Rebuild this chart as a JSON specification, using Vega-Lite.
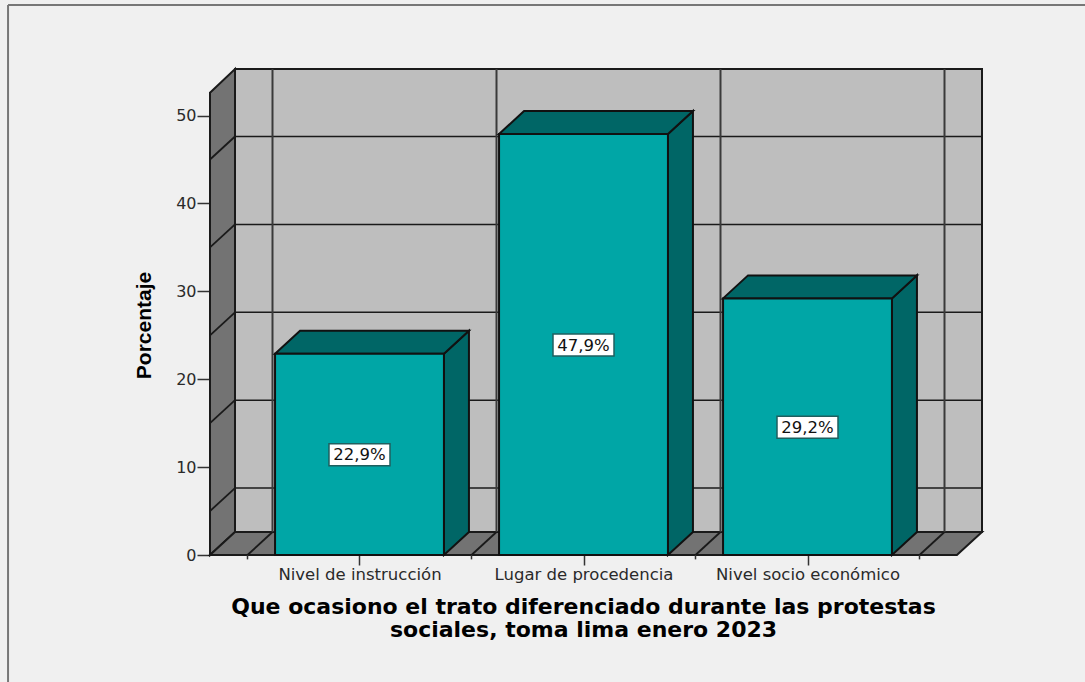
{
"$schema":"https://vega.github.io/schema/vega-lite/v6.json",
"width":772,"height":486,
"autosize":{"type":"none"},
"padding":{"left":210,"top":69,"right":103,"bottom":127},
"background":"#f0f0f0",
"config":{"view":{"stroke":null}},
"datasets":{"barras":[
{"categoria":"Nivel de instrucción","orden":1,"porcentaje":22.9},
{"categoria":"Lugar de procedencia","orden":2,"porcentaje":47.9},
{"categoria":"Nivel socio económico","orden":3,"porcentaje":29.2}]},
"layer":[
{"data":{"values":[{"xa":0.4442,"xb":3.779,"ya":2.617,"yb":55.3}]},"mark":{"type":"rect","fill":"#bebebe","stroke":"#1a1a1a","strokeWidth":2},
"encoding":{
"x":{"field":"xa","type":"quantitative","scale":{"domain":[0.3326,3.779],"nice":false,"zero":false},
"axis":{"values":[1,2,3],"grid":false,"domain":false,"tickSize":10,"tickWidth":1.5,"tickColor":"#333333","labelFontSize":16.5,"labelFont":"DejaVu Sans","labelColor":"#2a2a2a","labelPadding":1,"labelLimit":400,
"labelExpr":"datum.value==1?'Nivel de instrucción':datum.value==2?'Lugar de procedencia':'Nivel socio económico'",
"title":["Que ocasiono el trato diferenciado durante las protestas","sociales, toma lima enero 2023"],"titleFont":"DejaVu Sans","titleFontSize":22,"titleFontWeight":"bold","titleColor":"#000000","titleLineHeight":23,"titleBaseline":"top","titleY":41,"titleX":373,"titleAnchor":"middle"}},
"x2":{"field":"xb"},
"y":{"field":"ya","type":"quantitative","scale":{"domain":[0,55.3],"nice":false,"zero":false},
"axis":{"values":[0,10,20,30,40,50],"grid":false,"domain":false,"tickSize":13,"tickWidth":1.5,"tickColor":"#333333","labelFontSize":16,"labelFont":"DejaVu Sans","labelColor":"#2a2a2a","labelPadding":1,
"title":"Porcentaje","titleFont":"Liberation Sans","titleFontSize":21,"titleFontWeight":"bold","titleColor":"#000000","titleX":-56,"titleY":256}},
"y2":{"field":"yb"}}},
{"data":{"values":[{"x":0.3326,"y":0,"y2":52.6},{"x":0.4442,"y":2.617,"y2":55.3}]},
"mark":{"type":"area","orient":"vertical","fill":"#737373","stroke":"#1a1a1a","strokeWidth":2},
"encoding":{"x":{"field":"x","type":"quantitative"},"y":{"field":"y","type":"quantitative"},"y2":{"field":"y2"}}},
{"data":{"values":[{"x":0.3326,"x2":3.667,"y":0},{"x":0.4442,"x2":3.779,"y":2.617}]},
"mark":{"type":"area","orient":"horizontal","fill":"#737373","stroke":"#1a1a1a","strokeWidth":2},
"encoding":{"x":{"field":"x","type":"quantitative"},"x2":{"field":"x2"},"y":{"field":"y","type":"quantitative"}}},
{"data":{"values":[{"v":5},{"v":15},{"v":25},{"v":35},{"v":45}]},
"transform":[{"calculate":"datum.v+2.617","as":"vb"},{"calculate":"0.4442","as":"xa"},{"calculate":"3.779","as":"xb"}],
"mark":{"type":"rule","color":"#1a1a1a","strokeWidth":1.5},
"encoding":{"x":{"field":"xa","type":"quantitative"},"x2":{"field":"xb"},"y":{"field":"vb","type":"quantitative"}}},
{"data":{"values":[{"v":5},{"v":15},{"v":25},{"v":35},{"v":45}]},
"transform":[{"calculate":"[0,1]","as":"t"},{"flatten":["t"]},{"calculate":"0.3326+datum.t*0.1116","as":"px"},{"calculate":"datum.v+datum.t*2.617","as":"py"}],
"mark":{"type":"line","color":"#1a1a1a","strokeWidth":1.8},
"encoding":{"x":{"field":"px","type":"quantitative"},"y":{"field":"py","type":"quantitative"},"detail":{"field":"v"}}},
{"data":{"values":[{"k":0.5},{"k":1.5},{"k":2.5},{"k":3.5}]},
"transform":[{"calculate":"datum.k+0.1116","as":"kb"},{"calculate":"2.617","as":"ya"},{"calculate":"55.3","as":"yb"}],
"mark":{"type":"rule","color":"#3a3a3a","strokeWidth":2},
"encoding":{"x":{"field":"kb","type":"quantitative"},"y":{"field":"ya","type":"quantitative"},"y2":{"field":"yb"}}},
{"data":{"values":[{"k":0.5},{"k":1.5},{"k":2.5},{"k":3.5}]},
"transform":[{"calculate":"[0,1]","as":"t"},{"flatten":["t"]},{"calculate":"datum.k+datum.t*0.1116","as":"px"},{"calculate":"datum.t*2.617","as":"py"}],
"mark":{"type":"line","color":"#1a1a1a","strokeWidth":1.8},
"encoding":{"x":{"field":"px","type":"quantitative"},"y":{"field":"py","type":"quantitative"},"detail":{"field":"k"}}},
{"data":{"values":[{"k":0.5},{"k":1.5},{"k":2.5},{"k":3.5}]},
"transform":[{"calculate":"0","as":"ya"},{"calculate":"-0.5","as":"yb"}],
"mark":{"type":"rule","color":"#333333","strokeWidth":1.5},
"encoding":{"x":{"field":"k","type":"quantitative"},"y":{"field":"ya","type":"quantitative"},"y2":{"field":"yb"}}},
{"data":{"name":"barras"},
"transform":[{"calculate":"[0,1]","as":"t"},{"flatten":["t"]},{"calculate":"datum.orden+0.377+datum.t*0.1116","as":"px"},{"calculate":"datum.porcentaje+datum.t*2.617","as":"py"},{"calculate":"datum.t*2.617","as":"py2"}],
"mark":{"type":"area","orient":"vertical","fill":"#006666","stroke":"#111111","strokeWidth":2},
"encoding":{"x":{"field":"px","type":"quantitative"},"y":{"field":"py","type":"quantitative"},"y2":{"field":"py2"},"detail":{"field":"categoria"}}},
{"data":{"name":"barras"},
"transform":[{"calculate":"[0,1]","as":"t"},{"flatten":["t"]},{"calculate":"datum.orden-0.377+datum.t*0.1116","as":"px"},{"calculate":"datum.orden+0.377+datum.t*0.1116","as":"px2"},{"calculate":"datum.porcentaje+datum.t*2.617","as":"py"}],
"mark":{"type":"area","orient":"horizontal","fill":"#006666","stroke":"#111111","strokeWidth":2},
"encoding":{"x":{"field":"px","type":"quantitative"},"x2":{"field":"px2"},"y":{"field":"py","type":"quantitative"},"detail":{"field":"categoria"}}},
{"data":{"name":"barras"},
"transform":[{"calculate":"datum.orden-0.377","as":"xa"},{"calculate":"datum.orden+0.377","as":"xb"},{"calculate":"0","as":"ya"}],
"mark":{"type":"rect","fill":"#00a6a6","stroke":"#111111","strokeWidth":2},
"encoding":{"x":{"field":"xa","type":"quantitative"},"x2":{"field":"xb"},"y":{"field":"ya","type":"quantitative"},"y2":{"field":"porcentaje"}}},
{"data":{"name":"barras"},
"transform":[{"calculate":"datum.porcentaje/2","as":"mitad"}],
"mark":{"type":"rect","fill":"#ffffff","stroke":"#1f5f5f","strokeWidth":1.5,"xOffset":-30.5,"x2Offset":30.5,"yOffset":-10.5,"y2Offset":11.5},
"encoding":{"x":{"field":"orden","type":"quantitative"},"x2":{"field":"orden"},"y":{"field":"mitad","type":"quantitative"},"y2":{"field":"mitad"}}},
{"data":{"name":"barras"},
"transform":[{"calculate":"datum.porcentaje/2","as":"mitad"},{"calculate":"replace(format(datum.porcentaje,'.1f'),'.',',')+'%'","as":"etiqueta"}],
"mark":{"type":"text","font":"DejaVu Sans","fontSize":16.5,"color":"#111111","baseline":"middle","align":"center","dy":1},
"encoding":{"x":{"field":"orden","type":"quantitative"},"y":{"field":"mitad","type":"quantitative"},"text":{"field":"etiqueta"}}},
{"data":{"values":[{"xa":-0.569,"xb":4.24,"ya":62.57}]},"mark":{"type":"rule","color":"#777777","strokeWidth":2},
"encoding":{"x":{"field":"xa","type":"quantitative"},"x2":{"field":"xb"},"y":{"field":"ya","type":"quantitative"}}},
{"data":{"values":[{"xa":-0.569,"ya":62.57,"yb":-14.5}]},"mark":{"type":"rule","color":"#777777","strokeWidth":2},
"encoding":{"x":{"field":"xa","type":"quantitative"},"y":{"field":"ya","type":"quantitative"},"y2":{"field":"yb"}}}
]}
